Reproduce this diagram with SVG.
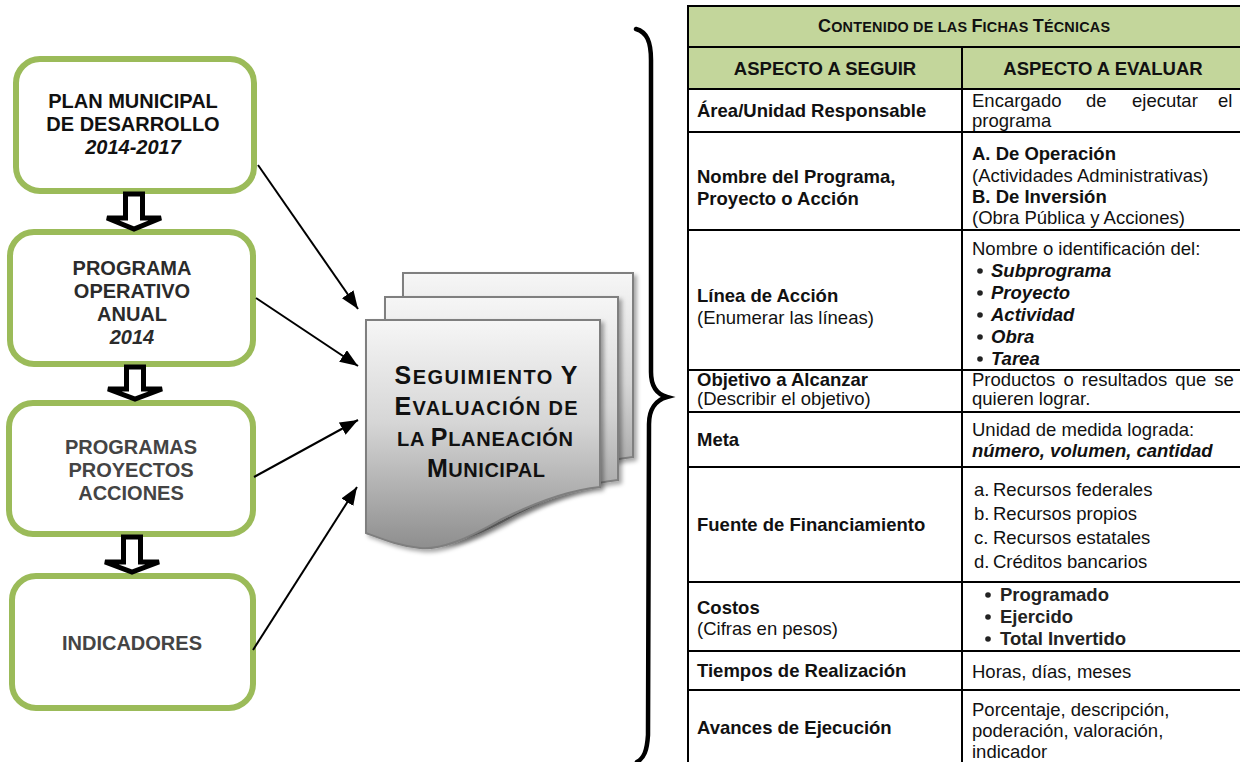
<svg xmlns="http://www.w3.org/2000/svg" width="1240" height="762" viewBox="0 0 1240 762">
<defs>
<style>
.box{fill:#fff;stroke:#9BBB59;stroke-width:6}
.bt{font-family:"Liberation Sans",Arial,sans-serif;font-weight:bold;font-size:20px;text-anchor:middle}
.it{font-style:italic}
.blk{fill:#fff;stroke:#000;stroke-width:5;stroke-linejoin:miter}
.conn{stroke:#000;stroke-width:2;fill:none;marker-end:url(#ah)}
.page{stroke:#7f7f7f;stroke-width:2;fill:url(#pg)}
.dt{font-family:"Liberation Sans",Arial,sans-serif;font-weight:bold;fill:#111;text-anchor:middle}
.L{font-size:25px}
.s{font-size:20px}
.grid{stroke:#000;stroke-width:2;fill:none}
.tb{font-family:"Liberation Sans",Arial,sans-serif;font-size:18.5px;fill:#111}
.b{font-weight:bold}
.bi{font-weight:bold;font-style:italic}
.hd{font-family:"Liberation Sans",Arial,sans-serif;font-weight:bold;fill:#111;text-anchor:middle}
.dot{fill:#222}
</style>
<linearGradient id="pg" x1="0" y1="0" x2="0" y2="1">
<stop offset="0" stop-color="#f6f6f6"/>
<stop offset="0.45" stop-color="#d6d6d6"/>
<stop offset="1" stop-color="#8e8e8e"/>
</linearGradient>
<filter id="sh" x="-10%" y="-10%" width="130%" height="130%">
<feDropShadow dx="3" dy="3" stdDeviation="2" flood-color="#000" flood-opacity="0.35"/>
</filter>
<marker id="ah" markerUnits="userSpaceOnUse" markerWidth="20" markerHeight="16" refX="18" refY="7" orient="auto">
<path d="M0,0 L18,7 L0,14 z" fill="#000"/>
</marker>
</defs>
<rect width="1240" height="762" fill="#fff"/>

<g id="plan">
<rect class="box" x="16" y="59" width="238" height="132" rx="24"/>
<text class="bt" fill="#111"><tspan x="133" y="108">PLAN MUNICIPAL</tspan><tspan x="133" y="131">DE DESARROLLO</tspan><tspan class="it" x="133" y="154">2014-2017</tspan></text>
</g>
<g id="poa">
<rect class="box" x="10" y="232" width="243" height="132" rx="24"/>
<text class="bt" fill="#2b2b2b"><tspan x="132" y="275">PROGRAMA</tspan><tspan x="132" y="298">OPERATIVO</tspan><tspan x="132" y="321">ANUAL</tspan><tspan class="it" x="132" y="344">2014</tspan></text>
</g>
<g id="ppa">
<rect class="box" x="9" y="403" width="244" height="131" rx="24"/>
<text class="bt" fill="#444"><tspan x="131" y="454">PROGRAMAS</tspan><tspan x="131" y="477">PROYECTOS</tspan><tspan x="131" y="500">ACCIONES</tspan></text>
</g>
<g id="ind">
<rect class="box" x="12" y="576" width="241" height="132" rx="24"/>
<text class="bt" fill="#444" x="132" y="650">INDICADORES</text>
</g>

<g id="seguimiento">
<path class="page" filter="url(#sh)" d="M403,273 H633 V457 C603,460 573,470 533,490 C498,510 473,520 453,518 C433,516 418,510 403,503 Z"/>
<path class="page" filter="url(#sh)" d="M385,297 H618 V480 C588,483 558,493 518,513 C483,533 458,543 438,541 C418,539 403,533 385,526 Z"/>
<path class="page" filter="url(#sh)" d="M366,320 H600 V487 C570,490 540,500 500,520 C465,540 440,550 420,548 C400,546 385,540 366,533 Z"/>
<text class="dt" x="486" y="384" textLength="183" lengthAdjust="spacing"><tspan class="L">S</tspan><tspan class="s">EGUIMIENTO </tspan><tspan class="L">Y</tspan></text>
<text class="dt" x="486" y="415" textLength="183" lengthAdjust="spacing"><tspan class="L">E</tspan><tspan class="s">VALUACIÓN  DE</tspan></text>
<text class="dt" x="485" y="446" textLength="176" lengthAdjust="spacing"><tspan class="s">LA </tspan><tspan class="L">P</tspan><tspan class="s">LANEACIÓN</tspan></text>
<text class="dt" x="486" y="477" textLength="118" lengthAdjust="spacing"><tspan class="L">M</tspan><tspan class="s">UNICIPAL</tspan></text>
</g>

<g id="connectors">
<path class="blk" d="M125.5,194 H142.5 V218 H161 L134,229 L107,218 H125.5 Z"/>
<path class="blk" d="M126.5,367 H143.5 V389 H162 L135,399 L108,389 H126.5 Z"/>
<path class="blk" d="M123.5,537 H140.5 V562 H159 L132,572 L105,562 H123.5 Z"/>
<line class="conn" x1="258" y1="165" x2="358" y2="309"/>
<line class="conn" x1="256" y1="298" x2="358" y2="366"/>
<line class="conn" x1="254" y1="477" x2="358" y2="420"/>
<line class="conn" x1="253" y1="650" x2="357" y2="487"/>
</g>

<g id="brace">
<path d="M636,29 C647,32 651,42 651,60 L651,372 C651,386 656,394 667,397 C656,400 649,409 649,424 L648,735 C647,751 644,758 637,762" fill="none" stroke="#000" stroke-width="4.5" stroke-linecap="round"/>
</g>

<g id="tabla">
<rect x="688" y="6" width="553" height="83" fill="#C3D69B"/>
<path class="grid" d="M688,6 H1241 M688,47 H1241 M688,89 H1241 M688,132 H1241 M688,230 H1241 M688,370 H1241 M688,412 H1241 M688,467 H1241 M688,582 H1241 M688,651 H1241 M688,690 H1241 M688,5 V762 M962,47 V762"/>
<text class="hd" x="964" y="32" textLength="292" lengthAdjust="spacing"><tspan font-size="18">C</tspan><tspan font-size="14.4">ONTENIDO DE LAS </tspan><tspan font-size="18">F</tspan><tspan font-size="14.4">ICHAS </tspan><tspan font-size="18">T</tspan><tspan font-size="14.4">ÉCNICAS</tspan></text>
<text class="hd" font-size="18.5" x="825" y="75">ASPECTO A SEGUIR</text>
<text class="hd" font-size="18.5" x="1103" y="75">ASPECTO A EVALUAR</text>

<g class="tb">
<text class="b" x="697" y="117">Área/Unidad Responsable</text>
<text x="972" y="107"><tspan x="972">Encargado</tspan><tspan x="1086">de</tspan><tspan x="1132">ejecutar</tspan><tspan x="1218">el</tspan></text>
<text x="972" y="127">programa</text>

<text class="b"><tspan x="697" y="183">Nombre del Programa,</tspan><tspan x="697" y="205">Proyecto o Acción</tspan></text>
<text><tspan class="b" x="972" y="160">A. De Operación</tspan><tspan x="972" y="182">(Actividades Administrativas)</tspan><tspan class="b" x="972" y="203">B. De Inversión</tspan><tspan x="972" y="224">(Obra Pública y Acciones)</tspan></text>

<text><tspan class="b" x="697" y="302">Línea de Acción</tspan><tspan x="697" y="324">(Enumerar las líneas)</tspan></text>
<text x="972" y="255">Nombre o identificación del:</text>
<circle class="dot" cx="980" cy="271" r="2.8"/>
<circle class="dot" cx="980" cy="293" r="2.8"/>
<circle class="dot" cx="980" cy="315" r="2.8"/>
<circle class="dot" cx="980" cy="337" r="2.8"/>
<circle class="dot" cx="980" cy="359" r="2.8"/>
<text class="bi"><tspan x="991" y="277">Subprograma</tspan><tspan x="991" y="299">Proyecto</tspan><tspan x="991" y="321">Actividad</tspan><tspan x="991" y="343">Obra</tspan><tspan x="991" y="365">Tarea</tspan></text>

<text><tspan class="b" x="697" y="386">Objetivo a Alcanzar</tspan><tspan x="697" y="405">(Describir el objetivo)</tspan></text>
<text><tspan x="972" y="386" word-spacing="3">Productos o resultados que se</tspan><tspan x="972" y="405">quieren lograr.</tspan></text>

<text class="b" x="697" y="446">Meta</text>
<text><tspan x="972" y="436">Unidad de medida lograda:</tspan><tspan class="bi" x="972" y="457">número, volumen, cantidad</tspan></text>

<text class="b" x="697" y="531">Fuente de Financiamiento</text>
<text><tspan x="974" y="496">a.</tspan><tspan x="993" y="496">Recursos federales</tspan><tspan x="974" y="520">b.</tspan><tspan x="993" y="520">Recursos propios</tspan><tspan x="974" y="544">c.</tspan><tspan x="993" y="544">Recursos estatales</tspan><tspan x="974" y="568">d.</tspan><tspan x="993" y="568">Créditos bancarios</tspan></text>

<text><tspan class="b" x="697" y="614">Costos</tspan><tspan x="697" y="635">(Cifras en pesos)</tspan></text>
<circle class="dot" cx="988" cy="595" r="2.8"/>
<circle class="dot" cx="988" cy="617" r="2.8"/>
<circle class="dot" cx="988" cy="639" r="2.8"/>
<text class="b" fill="#222"><tspan x="1000" y="601">Programado</tspan><tspan x="1000" y="623">Ejercido</tspan><tspan x="1000" y="645">Total Invertido</tspan></text>

<text class="b" x="697" y="677">Tiempos de Realización</text>
<text x="972" y="678">Horas, días, meses</text>

<text class="b" x="697" y="734">Avances de Ejecución</text>
<text><tspan x="972" y="716">Porcentaje, descripción,</tspan><tspan x="972" y="737">poderación, valoración,</tspan><tspan x="972" y="758">indicador</tspan></text>
</g>
</g>
</svg>
